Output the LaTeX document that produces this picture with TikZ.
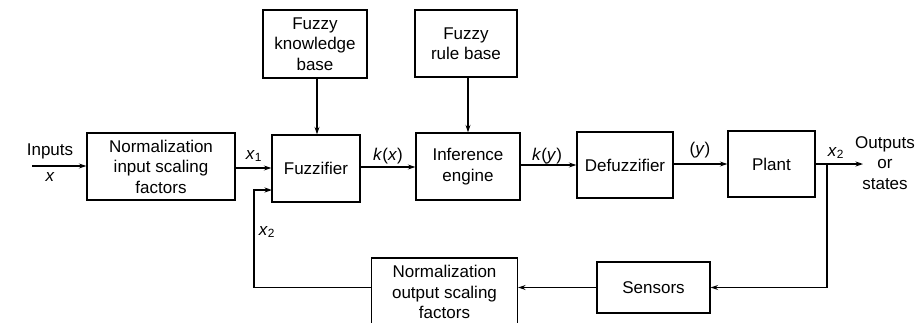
\documentclass[tikz,border=0pt]{standalone}
\usepackage{fontspec}
\setmainfont{Liberation Sans}
\usetikzlibrary{arrows.meta}
\begin{document}
\begin{tikzpicture}[x=1pt,y=-1pt,
  blk/.style={draw,line width=1.3pt,align=center,inner sep=0pt,
    font=\fontsize{17}{20.5}\selectfont},
  lbl/.style={inner sep=0pt,font=\fontsize{17}{20.5}\selectfont},
  conn/.style={line width=1.3pt,-{Stealth[length=7.5pt,width=5pt]}},
  wire/.style={line width=1.3pt}]
\useasboundingbox (0,0) rectangle (924,322);
\clip (0,0) rectangle (924,322);
\node[blk,minimum width=148pt,minimum height=67pt] (normin) at (161,166.5) {Normalization\\input scaling\\factors};
\node[blk,minimum width=104pt,minimum height=68pt] (kb) at (315,44) {Fuzzy\\knowledge\\base};
\node[blk,minimum width=88pt,minimum height=67pt] (fuzz) at (316,168.5) {Fuzzifier};
\node[blk,minimum width=102pt,minimum height=67pt] (rule) at (466,43.5) {Fuzzy\\rule base};
\node[blk,minimum width=104pt,minimum height=67pt] (inf) at (468,166.5) {Inference\\engine};
\node[blk,minimum width=96pt,minimum height=66pt] (defuzz) at (625,165) {Defuzzifier};
\node[blk,minimum width=87pt,minimum height=66pt] (plant) at (771.5,164) {Plant};
\node[blk,minimum width=113pt,minimum height=51pt] (sensors) at (653.5,287.5) {Sensors};
\node[blk,minimum width=146pt,minimum height=68pt] (normout) at (444.5,292) {Normalization\\output scaling\\factors};
% labels
\node[lbl] (inputs) at (50,151) {Inputs};
\node[lbl] (xin) at (50,177) {\textit{x}};
\node[lbl] (x1) at (254,156) {\textit{x}\textsubscript{1}};
\node[lbl] (kx) at (388,156) {\textit{k}(\textit{x})};
\node[lbl] (ky) at (547,156) {\textit{k}(\textit{y})};
\node[lbl] (y) at (700,150) {(\textit{y})};
\node[lbl] (x2o) at (836,153) {\textit{x}\textsubscript{2}};
\node[lbl,align=center] (outs) at (885,163) {Outputs\\or\\states};
\node[lbl] (x2f) at (267,232) {\textit{x}\textsubscript{2}};
% coordinates
\coordinate (instart) at (32,166);
\coordinate (outend) at (863,164);
\coordinate (branch) at (827,164);
\coordinate (fbin) at (272,190);
\coordinate (fbcorner) at (254,190);
% connectors
\draw[conn] (instart) -- (instart -| normin.west);
\draw[conn] (normin.east |- 0,168) -- (fuzz.west |- 0,168);
\draw[conn] (kb.south -| 317,0) -- (fuzz.north -| 317,0);
\draw[conn] (rule.south -| 468,0) -- (inf.north);
\draw[conn] (fuzz.east |- 0,167) -- (inf.west |- 0,167);
\draw[conn] (inf.east |- 0,165) -- (defuzz.west |- 0,165);
\draw[conn] (defuzz.east |- 0,164) -- (plant.west |- 0,164);
\draw[conn] (plant.east |- outend) -- (outend);
\draw[conn] (branch) |- (sensors.east);
\draw[conn] (sensors.west) -- (normout.east |- sensors.west);
\draw[conn] (normout.west |- sensors.west) -| (fbcorner) -- (fbin);
\end{tikzpicture}
\end{document}
